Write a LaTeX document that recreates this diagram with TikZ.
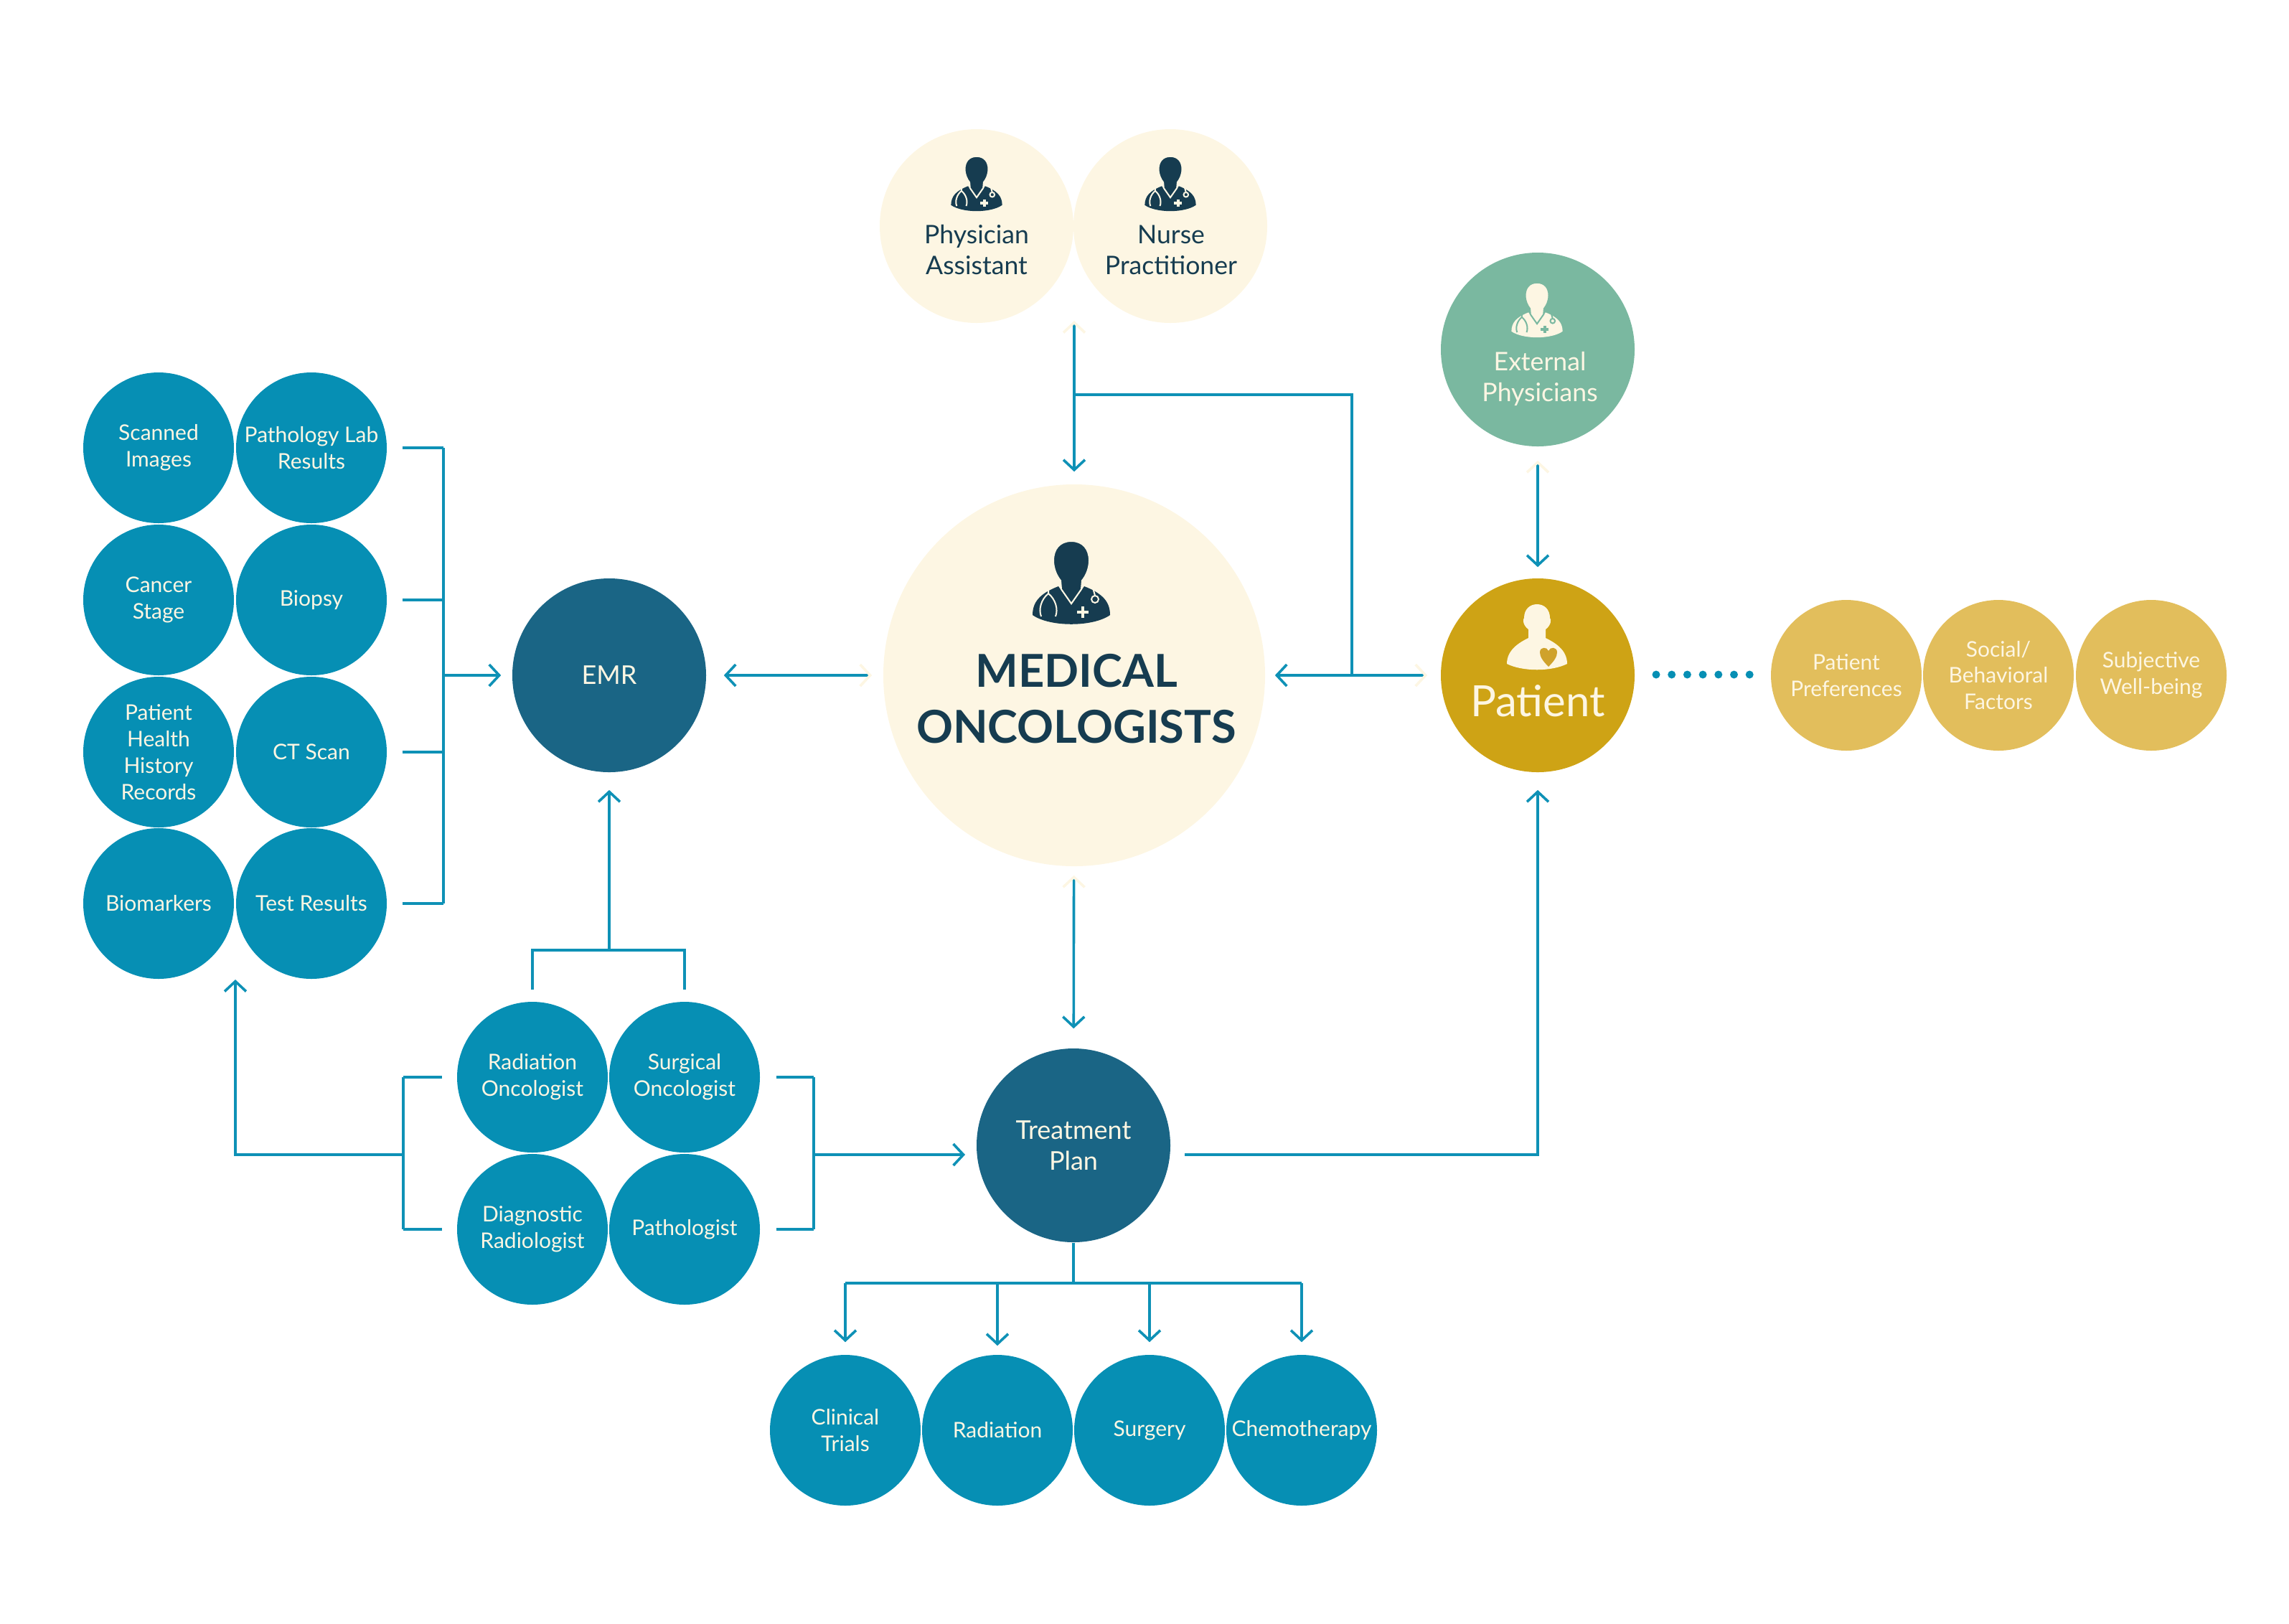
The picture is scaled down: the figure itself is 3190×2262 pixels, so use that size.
\documentclass[tikz,border=0pt]{standalone}
\usepackage{fontspec}
\setmainfont{Lato}
\usetikzlibrary{arrows.meta}
\definecolor{tealc}{HTML}{068FB4}
\definecolor{linec}{HTML}{0E91B6}
\definecolor{deepc}{HTML}{1A6585}
\definecolor{navyc}{HTML}{163C50}
\definecolor{creamc}{HTML}{FDF6E3}
\definecolor{greenc}{HTML}{7AB8A0}
\definecolor{goldc}{HTML}{CEA315}
\definecolor{paleg}{HTML}{E2BE5C}
\definecolor{heartc}{HTML}{CFA22B}
\tikzset{
  disc/.style={circle,inner sep=0pt,align=center},
  small/.style={disc,minimum size=52.5pt,fill=tealc,text=creamc,font=\fontsize{7.5}{9.2}\selectfont},
  pale/.style={small,fill=paleg},
  big/.style={disc,minimum size=67.5pt,fill=deepc,text=creamc,font=\fontsize{9}{10.7}\selectfont},
  soft/.style={disc,minimum size=67.5pt,fill=creamc},
  tag/.style={inner sep=0pt,align=center,font=\fontsize{8.9}{10.7}\selectfont},
  link/.style={draw=linec,line width=0.9pt},
  flow/.style={link,-{Straight Barb[length=3.5pt,width=7.5pt]}},
  tailflow/.style={link,{Straight Barb[color=creamc,length=3.5pt,width=7.5pt]}-{Straight Barb[length=3.5pt,width=7.5pt]}},
  gap/.style 2 args={shorten <=#1*0.25pt,shorten >=#2*0.25pt},
  pics/doctor/.style 2 args={code={
    \fill[#1] (-54,-14) .. controls (-54,-32) and (-44,-44) .. (-18,-54) -- (0,-28) -- (18,-54) .. controls (44,-44) and (54,-32) .. (54,-14) .. controls (30,3) and (-30,3) .. (-54,-14) -- cycle;
    \fill[#1,draw=#2,line width=0.5pt] (0,-117) .. controls (16,-117) and (25,-106) .. (25,-90) .. controls (25,-78) and (20,-68) .. (15,-62) -- (14,-50) -- (0,-30) -- (-14,-50) -- (-15,-62) .. controls (-20,-68) and (-25,-78) .. (-25,-90) .. controls (-25,-106) and (-16,-117) .. (0,-117) -- cycle;
    \draw[#2,line width=0.5pt] (-32,-50) -- (-32,-44) .. controls (-42,-36) and (-46,-22) .. (-42,-12) (-32,-44) .. controls (-22,-36) and (-18,-22) .. (-22,-12);
    \draw[#2,line width=0.5pt] (33,-36) circle (5) (30,-52) -- (33,-41);
    \draw[#2,line width=1pt] (16,-26) -- (16,-10) (8,-18) -- (24,-18);
  }},
  pics/sick/.style 2 args={code={
    \fill[#1] (-42,-8) .. controls (-42,-28) and (-24,-38) .. (-12,-44) -- (-12,-56) .. controls (-20,-62) and (-20,-70) .. (-18,-72) .. controls (-18,-84) and (-10,-91) .. (0,-91) .. controls (10,-91) and (18,-84) .. (18,-72) .. controls (20,-70) and (20,-62) .. (12,-56) -- (12,-44) .. controls (24,-38) and (42,-28) .. (42,-8) .. controls (20,3) and (-20,3) .. (-42,-8) -- cycle;
    \fill[#2] (16,-4) .. controls (8,-12) and (4,-18) .. (4,-24) .. controls (4,-32) and (14,-32) .. (16,-26) .. controls (18,-32) and (28,-32) .. (28,-24) .. controls (28,-18) and (24,-12) .. (16,-4) -- cycle;
  }}
}
\begin{document}
\begin{tikzpicture}[x=0.25pt,y=0.25pt,yscale=-1]
\useasboundingbox (0,0) rectangle (3190,2262);

% Discs
\node[soft] (assistant) at (1361,315) {};
\node[soft] (nurse) at (1631,315) {};
\node[soft,fill=greenc] (external) at (2143,487) {};
\node[soft,minimum size=133pt] (medical) at (1497,941) {};
\node[soft,fill=goldc] (patient) at (2143,941) {};
\node[big] (emr) at (849,941) {EMR};
\node[big] (plan) at (1496,1596) {Treatment\\Plan};

% Icons
\pic[transform shape,scale=0.66] at (1361,295) {doctor={navyc}{creamc}};
\pic[transform shape,scale=0.66] at (1631,295) {doctor={navyc}{creamc}};
\pic[transform shape,scale=0.66] at (2142,471) {doctor={creamc}{greenc}};
\pic[transform shape] at (1493,871) {doctor={navyc}{creamc}};
\pic[transform shape] at (2142,933) {sick={creamc}{heartc}};

% Text Node
\node[tag,text=navyc] (assistanttag) at (1361,348) {Physician\\Assistant};
\node[tag,text=navyc] (nursetag) at (1632,348) {Nurse\\Practitioner};
\node[tag,text=creamc] (externaltag) at (2146,528) {External\\Physicians};
\node[tag,text=navyc,font=\fontsize{15.8}{19.5}\selectfont\bfseries] (medicaltag) at (1500,974) {MEDICAL\\ONCOLOGISTS};
\node[tag,text=creamc,font=\fontsize{15}{16}\selectfont] (patienttag) at (2143,977) {Patient};

% Record discs
\node[small] (scanned) at (221,624) {Scanned\\Images};
\node[small] (pathlab) at (434,624) {Pathology Lab\\Results};
\node[small] (stage) at (221,836) {Cancer\\Stage};
\node[small] (biopsy) at (434,836) {Biopsy};
\node[small] (history) at (221,1048) {Patient\\Health\\History\\Records};
\node[small] (ctscan) at (434,1048) {CT Scan};
\node[small] (markers) at (221,1259) {Biomarkers};
\node[small] (results) at (434,1259) {Test Results};

% Specialist discs
\node[small] (radonc) at (742,1501) {Radiation\\Oncologist};
\node[small] (surgonc) at (954,1501) {Surgical\\Oncologist};
\node[small] (radiol) at (742,1713) {Diagnostic\\Radiologist};
\node[small] (patholog) at (954,1713) {Pathologist};

% Therapy discs
\node[small] (trials) at (1178,1993) {Clinical\\Trials};
\node[small] (radiation) at (1390,1993) {Radiation};
\node[small] (surgery) at (1602,1993) {Surgery};
\node[small] (chemo) at (1814,1993) {Chemotherapy};

% Patient factor discs
\node[pale] (prefs) at (2573,941) {Patient\\Preferences};
\node[pale] (social) at (2785,941) {Social/\\Behavioral\\Factors};
\node[pale] (wellbeing) at (2998,941) {Subjective\\Well-being};

% Dots
\foreach \i in {0,...,6}
  \fill[tealc] ({2308+\i*21.7},940) circle (5.5);

% Junctions
\coordinate (careout) at (1497,447);
\coordinate (careknee) at (1497,550);
\coordinate (caretop) at (1884,550);
\coordinate (carelow) at (1884,941);
\coordinate (recordtop) at (618,624);
\coordinate (recordbot) at (618,1259);
\coordinate (recordmid) at (618,941);
\coordinate (stagejoin) at (618,836);
\coordinate (historyjoin) at (618,1048);
\coordinate (radjoin) at (742,1324);
\coordinate (surgjoin) at (954,1324);
\coordinate (emrjoin) at (849,1324);
\coordinate (backtop) at (562,1501);
\coordinate (backbot) at (562,1713);
\coordinate (backmid) at (562,1609);
\coordinate (backknee) at (328,1609);
\coordinate (backtip) at (328,1365);
\coordinate (foretop) at (1134,1501);
\coordinate (forebot) at (1134,1713);
\coordinate (foremid) at (1134,1609);
\coordinate (plantip) at (1345,1609);
\coordinate (planout) at (1651,1609);
\coordinate (planknee) at (2143,1609);
\coordinate (plandrop) at (1496,1788);
\coordinate (trialknee) at (1178,1788);
\coordinate (chemoknee) at (1814,1788);
\coordinate (radjog) at (1390,1788);
\coordinate (surgjog) at (1602,1788);

% Connection
\draw[tailflow,gap={0}{17}] (careout) -- (medical);
\draw[link] (careknee) -- (caretop) -- (carelow);
\draw[tailflow,gap={18}{13}] (patient) -- (medical);
\draw[tailflow,gap={19}{15}] (external) -- (patient);
\draw[tailflow,gap={15}{24}] (medical) -- (emr);
\draw[tailflow,gap={12}{27}] (medical) -- (plan);
% Connection
\draw[link,gap={21}{0}] (pathlab) -- (recordtop);
\draw[link,gap={21}{0}] (biopsy) -- (stagejoin);
\draw[link,gap={21}{0}] (ctscan) -- (historyjoin);
\draw[link,gap={21}{0}] (results) -- (recordbot);
\draw[link] (recordtop) -- (recordbot);
\draw[flow,gap={0}{15}] (recordmid) -- (emr);
% Connection
\draw[link] (radonc.north |- 0,1379) -- (radjoin) -- (surgjoin) -- (surgonc.north |- 0,1379);
\draw[flow,gap={0}{24}] (emrjoin) -- (emr);
\draw[link,gap={20}{0}] (radonc) -- (backtop);
\draw[link,gap={20}{0}] (radiol) -- (backbot);
\draw[link] (backtop) -- (backbot);
\draw[flow] (backmid) -- (backknee) -- (backtip);
\draw[link,gap={22}{0}] (surgonc) -- (foretop);
\draw[link,gap={22}{0}] (patholog) -- (forebot);
\draw[link] (foretop) -- (forebot);
\draw[flow] (foremid) -- (plantip);
\draw[flow,gap={0}{24}] (planout) -- (planknee) -- (patient);
% Connection
\draw[link] (plan) -- (plandrop);
\draw[link] (trialknee) -- (chemoknee);
\draw[flow,gap={0}{17}] (trialknee) -- (trials);
\draw[flow,gap={0}{12}] (radjog) -- (radiation);
\draw[flow,gap={0}{17}] (surgjog) -- (surgery);
\draw[flow,gap={0}{17}] (chemoknee) -- (chemo);

\end{tikzpicture}
\end{document}
